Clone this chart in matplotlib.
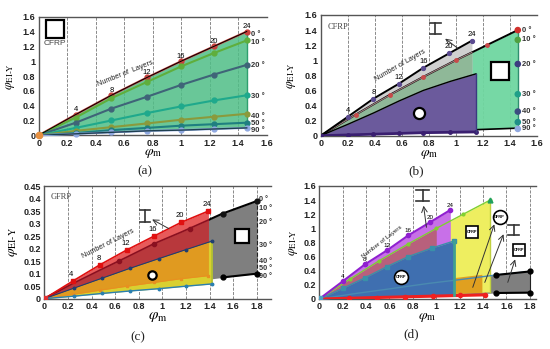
import numpy as np
import matplotlib
matplotlib.use("Agg")
import matplotlib.pyplot as plt

plt.rcParams['font.family'] = ['Liberation Sans', 'DejaVu Sans']
plt.rcParams['mathtext.fontset'] = 'stix'

W, H = 550, 349

# panel a, CFRP box
xa = [0, 0.26, 0.51, 0.76, 1.0, 1.23, 1.46]
a_0 = [0, 0.28, 0.54, 0.78, 1.0, 1.2, 1.4]
a_10 = [0, 0.24, 0.5, 0.72, 0.93, 1.11, 1.28]
a_20 = [0, 0.17, 0.36, 0.52, 0.68, 0.82, 0.95]
a_30 = [0, 0.1, 0.2, 0.3, 0.39, 0.47, 0.54]
a_40 = [0, 0.06, 0.11, 0.16, 0.21, 0.25, 0.29]
a_50 = [0, 0.03, 0.07, 0.1, 0.13, 0.15, 0.17]
a_90 = [0, 0.02, 0.04, 0.06, 0.07, 0.085, 0.1]
a_colors = ['#c8403c', '#5fae3c', '#3f6478', '#1fa98c', '#8a9a3c', '#1f7f80', '#8fa8e0']
layers = ['4', '8', '12', '16', '20', '24']
angle_labels = ['0 °', '10 °', '20 °', '30 °', '40 °', '50 °', '90 °']

# panel b, I section and circular section on top of the box
xb_i = [0, 0.2, 0.39, 0.58, 0.76, 0.95, 1.12]
b_i_top = [0, 0.25, 0.49, 0.69, 0.9, 1.09, 1.26]
b_i_bot = [0, 0.015, 0.03, 0.04, 0.055, 0.07, 0.08]
xb_c = [0, 0.2, 0.39, 0.58, 0.76, 0.96, 1.15]
b_c_top = [0, 0.15, 0.3, 0.46, 0.6, 0.72, 0.82]
b_c_bot = [0, 0.01, 0.02, 0.03, 0.04, 0.045, 0.05]
b_angle_y = [1.4, 1.27, 0.95, 0.55, 0.32, 0.18, 0.09]
b_dot_colors = ['#d0302c', '#50a040', '#3c3c80', '#1f9f88', '#3c4c80', '#1f8f88', '#90a8e0']

# panel c, GFRP
xc_i = [0, 0.24, 0.47, 0.7, 0.93, 1.16, 1.39]
c_i_top = [0, 0.07, 0.135, 0.195, 0.25, 0.305, 0.35]
c_i_bot = [0, 0.017, 0.034, 0.05, 0.065, 0.08, 0.092]
xc_b = [0, 0.32, 0.63, 0.93, 1.23, 1.51, 1.8]
c_b_top = [0, 0.08, 0.15, 0.22, 0.28, 0.34, 0.39]
c_b_bot = [0, 0.02, 0.037, 0.052, 0.068, 0.085, 0.1]
xc_c = [0, 0.25, 0.49, 0.73, 0.97, 1.2, 1.42]
c_c_top = [0, 0.042, 0.082, 0.122, 0.16, 0.196, 0.23]
c_c_bot = [0, 0.01, 0.021, 0.031, 0.04, 0.05, 0.059]

# panel d, all three materials
d_g_top = [0, 0.08, 0.15, 0.22, 0.28, 0.34, 0.39]
d_g_bot = [0, 0.02, 0.037, 0.052, 0.068, 0.085, 0.09]


def make_ax(box, xlim, ylim, xticks, yticks, ylabels, ylab_x):
    # box is left, right, top, bottom in pixels of the picture
    l, r, t, b = box
    ax = fig.add_axes([l / W, 1 - b / H, (r - l) / W, (b - t) / H])
    ax.set_xlim(xlim)
    ax.set_ylim(ylim)
    ax.set_xticks(xticks)
    ax.set_xticklabels([f'{v:g}' for v in xticks], fontsize=6.5, fontweight='bold', color='#222222')
    ax.set_yticks(yticks)
    ax.set_yticklabels(ylabels, fontsize=6.5, fontweight='bold', color='#222222')
    ax.tick_params(length=0, pad=2.5)
    ax.grid(axis='x', color='#777777', ls='--', lw=0.6)
    ax.set_axisbelow(True)
    for s in ['top', 'left', 'bottom']:
        ax.spines[s].set_color('#555555')
        ax.spines[s].set_linewidth(1.0)
    ax.spines['right'].set_visible(False)
    ax.set_xlabel(r'$\varphi_{\mathrm{m}}$', fontsize=10, labelpad=-1)
    ax.set_ylabel(r'$\varphi_{\mathrm{EI\text{-}Y}}$', fontsize=9)
    ax.yaxis.set_label_coords(ylab_x, 0.5)
    return ax


def ibeam(ax, x, y, w, h):
    tr = ax.transAxes
    ax.plot([x - w, x + w], [y + h, y + h], color='#333333', lw=1.2, transform=tr, zorder=9)
    ax.plot([x - w, x + w], [y - h, y - h], color='#333333', lw=1.2, transform=tr, zorder=9)
    ax.plot([x, x], [y - h, y + h], color='#333333', lw=1.2, transform=tr, zorder=9)


def icon(ax, x, y, marker, size, mew=1.6):
    ax.plot([x], [y], marker=marker, ms=size, mfc='white', mec='black', mew=mew,
            transform=ax.transAxes, zorder=9, clip_on=False)


def arrow(ax, tip, tail):
    ax.annotate('', xy=tip, xytext=tail, xycoords='axes fraction',
                arrowprops=dict(arrowstyle='->', color='#333333', lw=0.7), zorder=9)


fig = plt.figure(figsize=(5.5, 3.49), dpi=100)
fig.patch.set_facecolor('white')

# (a)
ticks16 = [0, 0.2, 0.4, 0.6, 0.8, 1, 1.2, 1.4, 1.6]
ylab16 = ['0', '0.2', '0.4', '0.6', '0.8', '1', '1.2', '1.4', '1.6']
ax = make_ax((38.7, 266.7, 16.7, 135.3), (0, 1.6), (0, 1.6), ticks16, ticks16, ylab16, -0.095)
ax.fill_between(xa, a_90, a_0, color='#4fbe86', alpha=0.85, lw=0)
a_series = [a_0, a_10, a_20, a_30, a_40, a_50, a_90]
for y, c in zip(a_series, a_colors):
    ax.plot(xa, y, color=c, lw=1.5, marker='o', ms=3.5, clip_on=False, zorder=4)
ax.plot(xa, a_0, color='black', lw=0.7, zorder=5)
ax.plot(xa, a_90, color='#1f3f50', lw=1.0, zorder=5)
ax.plot([xa[-1], xa[-1]], [a_90[-1], a_0[-1]], color='#2f9f6f', lw=1.0, zorder=3)
ax.plot([0], [0], marker='o', ms=4.5, color='#e89040', clip_on=False, zorder=6)
for x, y, t in zip(xa[1:], a_0[1:], layers):
    ax.text(x, y + 0.02, t, fontsize=5.5, ha='center', va='bottom', zorder=7)
for y, t in zip([1.36, 1.25, 0.94, 0.53, 0.26, 0.165, 0.07], angle_labels):
    ax.text(1.49, y, t, fontsize=5.5, fontweight='bold', color='#333333', va='center', clip_on=False)
ax.text(0.378, 0.517, 'Number of  Layers', fontsize=5.2, rotation=22, ha='center', va='center', transform=ax.transAxes, color='#222222')
icon(ax, 0.0715, 0.9, 's', 12.5)
ax.text(0.0715, 0.778, 'CFRP', fontsize=6, color='#444444', ha='center', va='center', transform=ax.transAxes)

# (b)
ax = make_ax((320.7, 536.7, 15, 135.7), (0, 1.6), (0, 1.6), ticks16, ticks16, ylab16, -0.105)
ax.fill_between(xa, a_90, a_0, color='#6fd6a0', alpha=0.95, lw=0)
ax.fill_between(xb_i, b_i_bot, b_i_top, color='#d0d0d0', lw=0, zorder=2)
ax.fill_between(xb_i, b_i_bot, np.interp(xb_i, xa, a_0), color='#8fb898', lw=0, zorder=2)
ax.fill_between(xb_c, b_c_bot, b_c_top, color='#6b5a9c', lw=0, zorder=3)
ax.plot(xa, a_0, color='black', lw=1.4, zorder=2.5)
ax.plot(xb_i, np.interp(xb_i, xa, a_0), color='#a08080', lw=0.8, zorder=3)
ax.plot(xa, a_90, color='black', lw=1.2, zorder=2.5)
ax.plot(xb_i, b_i_top, color='black', lw=1.4, marker='o', ms=2.8, mfc='#5a4a90', mec='#5a4a90', zorder=5)
ax.plot(xb_c, b_c_top, color='black', lw=1.0, zorder=4)
ax.plot(xb_c, b_c_bot, color='#3a1f70', lw=2, marker='o', ms=2.5, zorder=5)
ax.plot([xb_c[-1], xb_c[-1]], [b_c_bot[-1], b_c_top[-1]], color='#3a3a80', lw=1, zorder=5)
ax.plot(xa[1:-1], a_0[1:-1], ls='', marker='o', ms=2.5, color='#c84a4a', zorder=5)
ax.plot([xa[-1], xa[-1]], [a_90[-1], a_0[-1]], color='#2f8f6f', lw=1.0, zorder=3)
ax.scatter([xa[-1]] * 7, b_angle_y, c=b_dot_colors, s=14, zorder=6, clip_on=False)
for x, y, t in zip(xb_i[1:], b_i_top[1:], layers):
    ax.text(x, y + 0.04, t, fontsize=5.5, ha='center', va='bottom', zorder=7)
for y, t in zip(b_angle_y, angle_labels):
    ax.text(1.49, y, t, fontsize=5.5, fontweight='bold', color='#333333', va='center', clip_on=False)
ax.text(0.367, 0.578, 'Number of Layers', fontsize=5.2, rotation=30, ha='center', va='center', transform=ax.transAxes, color='#222222')
ax.text(0.03, 0.9, 'CFRP', fontsize=6, family='Liberation Serif', color='#444444', transform=ax.transAxes, va='center')
ibeam(ax, 0.53, 0.89, 0.025, 0.045)
arrow(ax, (0.566, 0.818), (0.645, 0.71))
icon(ax, 0.83, 0.535, 's', 13)
icon(ax, 0.455, 0.19, 'o', 8)

# (c)
xt = [0, 0.2, 0.4, 0.6, 0.8, 1, 1.2, 1.4, 1.6, 1.8]
yt = [0, 0.05, 0.1, 0.15, 0.2, 0.25, 0.3, 0.35, 0.4, 0.45]
yl = ['0', '0.05', '0.1', '0.15', '0.2', '0.25', '0.3', '0.35', '0.4', '0.45']
ax = make_ax((44.3, 271, 186, 298.7), (0, 1.92), (0, 0.45), xt, yt, yl, -0.105)
ax.set_ylabel(r'$\varphi_{\mathrm{EI\text{-}Y}}$', fontsize=10)
ax.set_xlabel(r'$\varphi_{\mathrm{m}}$', fontsize=11, labelpad=-1)
c_i_mid = np.interp(xc_i, xc_b, c_b_top)
ax.fill_between(xc_b, c_b_bot, c_b_top, color='#7f7f7f', lw=0, zorder=2)
ax.plot(xc_b, c_b_top, color='black', lw=1.5, zorder=2.5)
ax.fill_between(xc_i, c_i_bot, c_i_top, color='#e85a5a', lw=0, zorder=3)
ax.fill_between(xc_i, c_i_bot, c_i_mid, color='#b8383c', lw=0, zorder=3)
ax.fill_between(xc_c, c_c_bot, c_c_top, color='#d9d030', lw=0, zorder=3)
ax.fill_between(xc_i, c_i_bot, np.interp(xc_i, xc_c, c_c_top), color='#e09a20', lw=0, zorder=4)
ax.plot(xc_i, c_i_mid, color='#8a1020', lw=1.2, zorder=5)
ax.plot(xc_b[2:5], c_b_top[2:5], ls='', marker='o', ms=3, color='#8a1020', zorder=6)
ax.plot(xc_b[5:], c_b_top[5:], ls='', marker='o', ms=3.5, color='#111111', zorder=6)
ax.plot(xc_b[5:], c_b_bot[5:], color='black', lw=1.5, marker='o', ms=3.5, zorder=6)
ax.plot(xc_i, c_i_top, color='#e01010', lw=1.2, marker='s', ms=3.5, zorder=6)
ax.plot(xc_i, c_i_bot, color='#e89020', lw=0.8, marker='s', ms=1.8, zorder=5)
ax.plot(xc_c, c_c_top, color='#1f3f70', lw=0.8, marker='o', ms=1.8, zorder=6)
ax.plot(xc_c, c_c_bot, color='#2a7fb0', lw=1.0, marker='o', ms=1.8, zorder=6)
ax.plot([xc_b[-1], xc_b[-1]], [c_b_bot[-1], c_b_top[-1]], color='#222222', lw=0.8, ls='--', zorder=5)
ax.plot([xc_c[-1], xc_c[-1]], [c_c_bot[-1], c_c_top[-1]], color='#b0c030', lw=1.2, zorder=5)
ax.plot([0], [0], marker='s', ms=4, color='#e03030', zorder=7)
for x, y, t in zip(xc_i[1:], c_i_top[1:], layers):
    ax.text(x - 0.01, y + 0.012, t, fontsize=5.5, ha='center', va='bottom', zorder=7)
for y, t in zip([0.397, 0.36, 0.303, 0.213, 0.15, 0.122, 0.09], angle_labels):
    ax.text(1.82, y, t, fontsize=5.2, fontweight='bold', color='#333333', va='center', clip_on=False)
ax.text(0.281, 0.485, 'Number of Layers', fontsize=5.2, rotation=27, ha='center', va='center', transform=ax.transAxes, color='#222222')
ax.text(0.03, 0.9, 'GFRP', fontsize=6, family='Liberation Serif', color='#444444', transform=ax.transAxes, va='center')
ibeam(ax, 0.444, 0.734, 0.024, 0.055)
arrow(ax, (0.465, 0.715), (0.56, 0.61))
icon(ax, 0.87, 0.556, 's', 10.5)
icon(ax, 0.475, 0.207, 'o', 6)

# (d)
ax = make_ax((319.3, 535.7, 186, 299), (0, 1.85), (0, 1.6), xt, ticks16, ylab16, -0.09)
ax.fill_between(xc_b, d_g_bot, d_g_top, color='#7f7f7f', lw=0, zorder=2)
ax.fill_between(xa, a_90, a_0, color='#eeee60', lw=0, zorder=2.2)
ax.fill_between(xc_i, c_i_bot, c_i_top, color='#e0a020', lw=0, zorder=2.5)
ax.fill_between(xb_i, b_i_bot, b_i_top, color='#c870e8', lw=0, zorder=3)
ax.fill_between(xa[:5], a_90[:5], a_0[:5], color='#b8607c', lw=0, zorder=3)
ax.fill_between(xb_c, b_c_bot, b_c_top, color='#3f6fb0', lw=0, zorder=3.5)
ax.plot(xc_b, d_g_top, color='#4a8ab0', lw=1.0, zorder=4)
ax.plot(xc_b[5:], d_g_top[5:], color='black', lw=1.5, marker='o', ms=3.5, zorder=6)
ax.plot(xc_b[5:], d_g_bot[5:], color='black', lw=1.5, marker='o', ms=3.5, zorder=6)
ax.plot(xa, a_0, color='#80d030', lw=1.0, marker='o', ms=2, zorder=3.2)
ax.plot(xa[-1:], a_0[-1:], marker='^', ms=3.5, color='#20a060', zorder=6)
ax.plot(xb_i, b_i_top, color='#9020d0', lw=1.5, marker='o', ms=3, zorder=6)
ax.plot(xc_c, c_c_bot, color='#f02020', lw=2.2, zorder=5)
ax.plot(xc_c[1:], c_c_bot[1:], ls='', marker='o', ms=3, color='#f02020', zorder=5)
ax.plot(xb_c, b_c_top, color='#3a90a8', lw=1.0, marker='s', ms=2.5, zorder=5)
ax.plot([0], [0], marker='s', ms=4.5, color='#4a9fc0', zorder=7)
ax.plot([xb_c[-1], xb_c[-1]], [b_c_bot[-1], b_c_top[-1]], color='#40a090', lw=2, zorder=5)
ax.plot([xa[-1], xa[-1]], [a_90[-1], a_0[-1]], color='#c0d040', lw=1, zorder=3)
ax.plot([xc_b[-1], xc_b[-1]], [d_g_bot[-1], d_g_top[-1]], color='#222222', lw=0.8, zorder=5)
for x, y, t in zip(xb_i[1:], b_i_top[1:], layers):
    ax.text(x, y + 0.03, t, fontsize=4.5, ha='center', va='bottom', zorder=7)
ax.text(0.29, 0.504, 'Number of Layers', fontsize=4.5, rotation=38, ha='center', va='center', transform=ax.transAxes, color='#222222')
ibeam(ax, 0.477, 0.914, 0.028, 0.051)
arrow(ax, (0.48, 0.85), (0.497, 0.61))
arrow(ax, (0.813, 0.684), (0.705, 0.08))
arrow(ax, (0.856, 0.596), (0.76, 0.124))
arrow(ax, (0.909, 0.374), (0.867, 0.124))
ibeam(ax, 0.898, 0.61, 0.027, 0.044)
for x, y, m, s, t in [(0.705, 0.595, 's', 8.5, 'CFRP'), (0.924, 0.43, 's', 8.5, 'CFRP'),
                      (0.833, 0.728, 'o', 10, 'GFRP'), (0.377, 0.197, 'o', 10, 'CFRP')]:
    icon(ax, x, y, m, s, mew=1.2)
    ax.text(x, y, t, fontsize=2.8, fontweight='bold', ha='center', va='center', transform=ax.transAxes, zorder=10)

for x, y, t in [(145, 171, '(a)'), (416, 171, '(b)'), (138, 337, '(c)'), (411, 334, '(d)')]:
    fig.text(x / W, 1 - y / H, t, fontsize=9.5, family='Liberation Serif', ha='center', va='center', color='#222222')

fig.savefig('out.png', dpi=100)
